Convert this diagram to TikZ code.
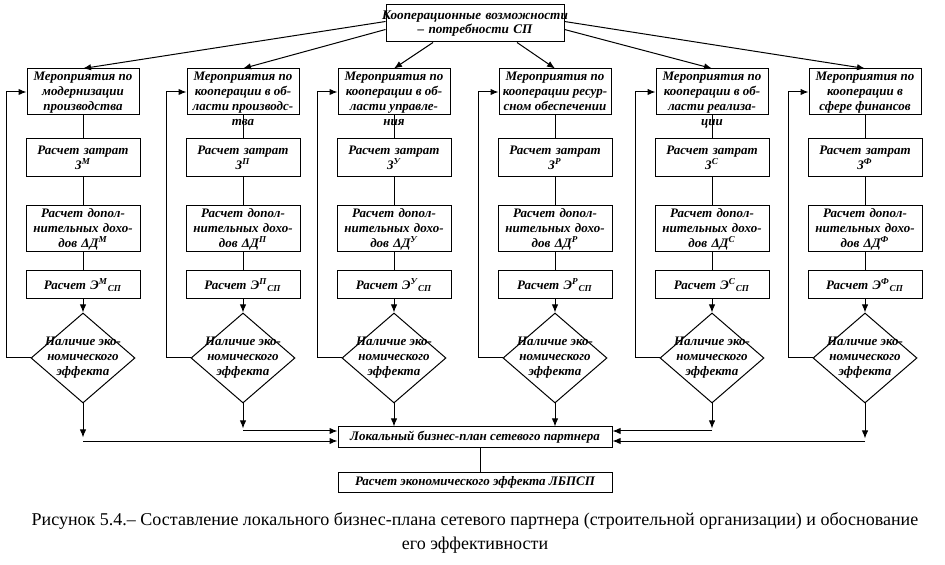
\documentclass[tikz,border=0pt]{standalone}
\usepackage{fontspec}
\setmainfont{Liberation Serif}
\usetikzlibrary{arrows.meta,shapes.geometric}
\newcommand{\bx}{\fontsize{6.5}{7.5}\selectfont\bfseries\itshape}
\begin{document}
\begin{tikzpicture}[x=0.5pt,y=-0.5pt,line width=0.5pt,
        >={Latex[length=4pt,width=3.2pt]},
        box/.style={draw,align=center,inner sep=1pt,font=\bx},
        meropr/.style={box,minimum width=56pt,minimum height=23pt,
            label={[anchor=north,align=center,font=\bx,inner sep=1.5pt]north:#1}},
        calc/.style={box,minimum width=57pt,minimum height=19pt,text width=55pt},
        effect/.style={diamond,draw,minimum width=52pt,minimum height=45pt,inner sep=0pt,
            label={[align=center,font=\bx]center:Наличие эко-\\номического\\эффекта}}]
\useasboundingbox (0,0) rectangle (945,565);

\node[box,text width=86pt,inner xsep=1.5pt,inner ysep=0pt,minimum height=18.5pt,
    font=\fontsize{6.6}{7.4}\selectfont\bfseries\itshape] (tb) at (475,23.5)
    {\makebox[86pt]{Кооперационные возможности}\\– потребности СП};

\node[meropr={Мероприятия по\\модернизации\\производства}] (m1) at (83,92) {};
\node[meropr={Мероприятия по\\кооперации в об-\\ласти производс-\\тва}] (m2) at (243,92) {};
\node[meropr={Мероприятия по\\кооперации в об-\\ласти управле-\\ния}] (m3) at (394,92) {};
\node[meropr={Мероприятия по\\кооперации ресур-\\сном обеспечении}] (m4) at (555,92) {};
\node[meropr={Мероприятия по\\кооперации в об-\\ласти реализа-\\ции}] (m5) at (712,92) {};
\node[meropr={Мероприятия по\\кооперации в\\сфере финансов}] (m6) at (865,92) {};

\draw[->] ([yshift=1pt]tb.west) -- (m1.north);
\draw[->] ([yshift=-3pt]tb.west) -- (m2.north);
\draw[->] ([xshift=-21pt]tb.south) -- (m3.north);
\draw[->] ([xshift=21pt]tb.south) -- (m4.north);
\draw[->] ([yshift=-3pt]tb.east) -- (m5.north);
\draw[->] ([yshift=1pt]tb.east) -- (m6.north);

\foreach \i/\x/\s in {1/83/М,2/243/П,3/394/У,4/555/Р,5/712/С,6/865/Ф}{
    \node[calc] (z\i) at (\x,158) {Расчет затрат\\З\textsuperscript{\s}};
    \node[calc,minimum height=23pt] (d\i) at (\x,229)
        {Расчет допол-\\нительных дохо-\\дов ΔД\textsuperscript{\s}};
    \node[calc,minimum height=14pt] (r\i) at (\x,285)
        {Расчет Э\textsuperscript{\s}\textsubscript{СП}};
    \node[effect] (e\i) at (\x,358) {};
    \draw (m\i) -- (z\i) -- (d\i) -- (r\i);
    \draw[->] (r\i) -- (e\i);
    \draw[->] (e\i.west) -- ++(-24,0) |- (m\i.west);
}

\node[box,minimum width=137pt,minimum height=10pt,inner sep=0pt] (lbp) at (475,437)
    {Локальный бизнес-план сетевого партнера};
\node[box,minimum width=137pt,minimum height=10pt,inner sep=0pt] (ef) at (475,482.5)
    {Расчет экономического эффекта ЛБПСП};
\draw ([xshift=2.5pt]lbp.south) -- ([xshift=2.5pt]ef.north);

\coordinate (hi) at (0,431);
\coordinate (lo) at (0,441);
\draw[->] (e1.south) -- ++(0,34);
\draw[->] (e1 |- lo) -- (lbp.west |- lo);
\draw[->] (e2.south) -- ++(0,25);
\draw[->] (e2 |- hi) -- (lbp.west |- hi);
\draw[->] (e3.south) -- (e3.south |- lbp.north);
\draw[->] (e4.south) -- (e4.south |- lbp.north);
\draw[->] (e5.south) -- ++(0,25);
\draw[->] (e5 |- hi) -- (lbp.east |- hi);
\draw[->] (e6.south) -- ++(0,35);
\draw[->] (e6 |- lo) -- (lbp.east |- lo);

\node[font=\fontsize{9}{12}\selectfont,align=center] (cap) at (475,533)
    {Рисунок 5.4.– Составление локального бизнес-плана сетевого партнера (строительной организации) и обоснование\\его эффективности};
\end{tikzpicture}
\end{document}
